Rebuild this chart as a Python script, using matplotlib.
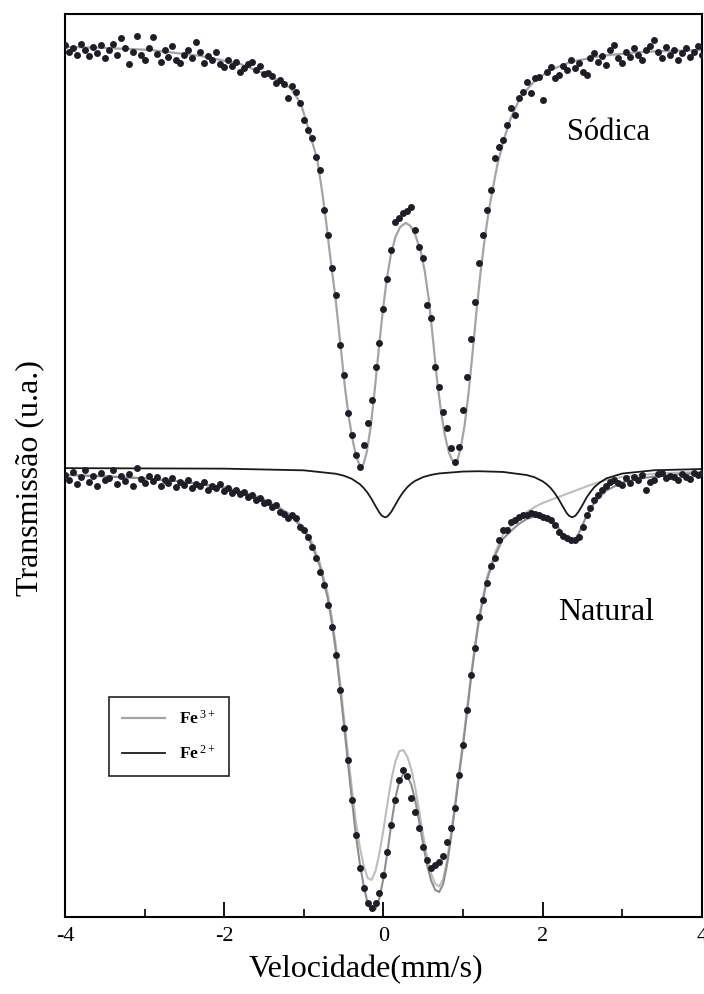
import numpy as np
import matplotlib.pyplot as plt
from matplotlib.ticker import MultipleLocator

plt.rcParams['font.family'] = ['Liberation Serif', 'DejaVu Serif']
plt.rcParams['mathtext.fontset'] = 'custom'
plt.rcParams['mathtext.rm'] = 'Liberation Serif'
plt.rcParams['mathtext.it'] = 'Liberation Serif:italic'
plt.rcParams['mathtext.bf'] = 'Liberation Serif:bold'
plt.rcParams['axes.unicode_minus'] = False

# velocity channels, mm/s (0.05 mm/s step)
velocity = np.linspace(-4.0, 4.0, 161)

# measured transmission (u.a.), sodium-exchanged sample, one row = 0.5 mm/s
sodica_counts = [
    872, 865, 869, 862, 873, 867, 861, 870, 864, 872,
    859, 867, 873, 862, 879, 869, 853, 865, 881, 862,
    857, 869, 880, 863, 855, 867, 860, 871, 857, 854,
    862, 867, 859, 875, 865, 854, 861, 857, 865, 853,
    850, 857, 851, 855, 845, 849, 853, 855, 847, 851,
    843, 844, 841, 834, 837, 833, 819, 831, 825, 814,
    797, 787, 779, 760, 747, 707, 682, 649, 622, 572,
    542, 504, 482, 462, 450, 472, 494, 517, 550, 574,
    608, 638, 667, 695, 699, 704, 706, 710, 687, 670,
    659, 612, 599, 550, 530, 505, 489, 469, 455, 470,
    507, 540, 578, 615, 654, 682, 707, 727, 759, 770,
    777, 792, 809, 802, 819, 825, 835, 824, 839, 840,
    817, 845, 850, 839, 842, 851, 847, 857, 849, 854,
    845, 842, 859, 864, 855, 861, 852, 867, 872, 859,
    854, 865, 860, 869, 862, 857, 867, 871, 877, 865,
    859, 870, 862, 867, 857, 864, 869, 860, 865, 871,
    862,
]

# measured transmission (u.a.), natural sample
natural_counts = [
    442, 437, 445, 433, 440, 447, 435, 441, 431, 444,
    437, 439, 447, 433, 441, 436, 443, 431, 449, 438,
    434, 441, 436, 440, 431, 437, 434, 439, 430, 435,
    432, 437, 429, 433, 431, 435, 427, 431, 429, 433,
    426, 429, 424, 427, 423, 425, 420, 422, 417, 419,
    414, 415, 410, 412, 405, 403, 399, 402, 399, 390,
    387, 380, 370, 359, 345, 332, 312, 290, 262, 227,
    189, 157, 117, 82, 49, 29, 14, 9, 14, 24,
    42, 65, 92, 117, 137, 147, 141, 119, 105, 89,
    70, 57, 49, 52, 55, 61, 75, 89, 109, 142,
    172, 207, 242, 269, 300, 317, 334, 351, 359, 377,
    387, 387, 395, 397, 400, 402, 402, 404, 403, 402,
    400, 399, 397, 392, 385, 381, 379, 377, 377, 380,
    390, 402, 409, 417, 422, 427, 431, 435, 437, 434,
    432, 439, 434, 440, 437, 442, 427, 435, 437, 443,
    444, 439, 441, 440, 437, 443, 440, 438, 444, 442,
    444,
]

# fitted curves as (velocity, transmission)
sodica_fit = [
    (-4.00, 870), (-3.50, 869), (-2.93, 867), (-2.30, 861), (-1.80, 853),
    (-1.42, 841), (-1.17, 829), (-1.04, 814), (-0.92, 782), (-0.83, 757),
    (-0.77, 725), (-0.72, 695), (-0.67, 661), (-0.60, 617), (-0.54, 572),
    (-0.48, 527), (-0.43, 497), (-0.38, 474), (-0.34, 460), (-0.30, 452),
    (-0.28, 450), (-0.25, 453), (-0.21, 465), (-0.16, 490), (-0.11, 527),
    (-0.06, 567), (-0.01, 605), (0.04, 637), (0.09, 661), (0.15, 680),
    (0.21, 690), (0.28, 694), (0.34, 691), (0.40, 682), (0.47, 665),
    (0.52, 645), (0.57, 617), (0.62, 579), (0.67, 539), (0.72, 507),
    (0.77, 482), (0.82, 465), (0.86, 457), (0.89, 454), (0.93, 457),
    (0.97, 469), (1.02, 492), (1.07, 525), (1.12, 565), (1.17, 607),
    (1.22, 645), (1.27, 677), (1.32, 705), (1.37, 727), (1.43, 752),
    (1.51, 777), (1.60, 799), (1.72, 820), (1.91, 837), (2.10, 847),
    (2.35, 855), (2.73, 861), (3.23, 865), (4.00, 867),
]

natural_fit = [
    (-4.0, 442), (-3.5, 440.5), (-3.0, 438.5), (-2.5, 435), (-2.0, 429),
    (-1.75, 424), (-1.5, 417), (-1.3, 408), (-1.15, 400), (-1.0, 387),
    (-0.9, 372), (-0.8, 351), (-0.7, 319), (-0.65, 295), (-0.6, 267),
    (-0.55, 232), (-0.5, 195), (-0.45, 157), (-0.4, 120), (-0.35, 84),
    (-0.3, 55), (-0.25, 32), (-0.2, 14), (-0.15, 6), (-0.1, 8),
    (-0.05, 19), (0.0, 39), (0.05, 65), (0.1, 94), (0.15, 119),
    (0.2, 136), (0.25, 143), (0.3, 141), (0.35, 132), (0.4, 116),
    (0.45, 95), (0.5, 72), (0.55, 51), (0.6, 36), (0.65, 27),
    (0.7, 25), (0.75, 33), (0.8, 53), (0.85, 80), (0.9, 110),
    (0.95, 142), (1.0, 172), (1.05, 205), (1.1, 239), (1.15, 269),
    (1.2, 297), (1.3, 337), (1.4, 361), (1.5, 378), (1.6, 386),
    (1.7, 393), (1.8, 398), (1.9, 400.5), (2.0, 400.5), (2.05, 398),
    (2.1, 396), (2.15, 393), (2.2, 389), (2.25, 383.5), (2.3, 378),
    (2.33, 376), (2.37, 375.5), (2.41, 378), (2.45, 383), (2.5, 392),
    (2.55, 401), (2.6, 408), (2.65, 414), (2.72, 420.5), (2.8, 426.5),
    (3.0, 434.5), (3.2, 438), (3.4, 440.5), (3.7, 442.5), (4.0, 444),
]

fe3_fit = [
    (-4.0, 442.2), (-3.5, 440.8), (-3.0, 438.8), (-2.5, 435.4), (-2.0, 429.7),
    (-1.75, 424.8), (-1.5, 418), (-1.3, 409.3), (-1.15, 401.6), (-1.0, 389.4),
    (-0.9, 374.9), (-0.8, 354.6), (-0.7, 323.5), (-0.65, 300), (-0.6, 272.8),
    (-0.55, 238.6), (-0.5, 202.7), (-0.45, 166), (-0.4, 130.8), (-0.35, 97),
    (-0.3, 71), (-0.25, 51.9), (-0.2, 39), (-0.15, 37), (-0.1, 46),
    (-0.05, 64), (0.0, 87.4), (0.05, 113.5), (0.1, 137.7), (0.15, 155.7),
    (0.2, 165.8), (0.25, 166.9), (0.3, 160.2), (0.35, 147.6), (0.4, 128.8),
    (0.45, 105.6), (0.5, 81.1), (0.55, 58.8), (0.6, 42.9), (0.65, 33.2),
    (0.7, 30.5), (0.75, 38), (0.8, 57.6), (0.85, 84.3), (0.9, 114),
    (0.95, 145.8), (1.0, 175.6), (1.05, 208.5), (1.1, 242.4), (1.15, 272.3),
    (1.2, 300.3), (1.3, 340), (1.4, 364), (1.5, 382), (1.6, 391),
    (1.7, 399), (1.8, 405), (1.9, 410), (2.0, 414), (2.1, 417),
    (2.2, 420), (2.4, 426), (2.6, 432), (2.8, 437), (3.0, 440),
    (3.3, 442.5), (3.6, 444), (4.0, 445),
]

fe2_fit = [
    (-4.0, 448.8), (-2.0, 448.3), (-1.0, 446.6), (-0.6, 443.2), (-0.5, 441.3),
    (-0.4, 438.2), (-0.3, 433.0), (-0.25, 429.1), (-0.2, 424.2), (-0.15, 418.0),
    (-0.1, 410.9), (-0.05, 404.2), (-0.02, 401.2), (0.02, 399.6), (0.05, 400.5),
    (0.1, 405.3), (0.15, 412.3), (0.2, 419.2), (0.25, 425.1), (0.3, 429.8),
    (0.35, 433.4), (0.4, 436.2), (0.5, 439.9), (0.6, 442.1), (0.7, 443.5),
    (1.0, 445.4), (1.2, 445.7), (1.5, 445.0), (1.8, 441.9), (1.9, 439.6),
    (2.0, 435.6), (2.05, 432.7), (2.1, 428.9), (2.15, 423.9), (2.2, 417.8),
    (2.25, 410.8), (2.3, 404.0), (2.33, 401.2), (2.37, 399.6), (2.41, 401.2),
    (2.45, 405.3), (2.5, 412.0), (2.55, 419.3), (2.6, 425.0), (2.65, 430.0),
    (2.72, 434.5), (2.8, 438.6), (3.0, 443.4), (3.4, 446.7), (4.0, 447.9),
]

fig = plt.figure(figsize=(7.04, 9.94), dpi=100)
ax = fig.add_axes([0.0923, 0.0775, 0.9048, 0.9085])

sx, sy = np.array(sodica_fit).T
nx, ny = np.array(natural_fit).T
f3x, f3y = np.array(fe3_fit).T
f2x, f2y = np.array(fe2_fit).T

ax.plot(f3x, f3y, color='#bdbdbd', lw=1.5, zorder=2)
ax.plot(sx, sy, color='#a4a4a4', lw=1.6, zorder=2, label='Fe$\\,^{3+}$')
ax.plot(nx, ny, color='#8e8e8e', lw=1.5, zorder=2)
ax.plot(f2x, f2y, color='#1a1a1a', lw=1.3, zorder=2.5, label='Fe$\\,^{2+}$')

ax.plot(velocity, sodica_counts, 'o', ms=5.0, mew=0, color='#1e1e2a', zorder=3)
ax.plot(velocity, natural_counts, 'o', ms=5.0, mew=0, color='#1e1e2a', zorder=3)

ax.text(2.31, 777, 'Sódica', fontsize=22, ha='left', va='baseline')
ax.text(2.19, 297, 'Natural', fontsize=23, ha='left', va='baseline')

ax.set_xlim(-4, 4)
ax.set_ylim(0, 903)
ax.set_yticks([])
ax.xaxis.set_major_locator(MultipleLocator(2))
ax.xaxis.set_minor_locator(MultipleLocator(1))
ax.tick_params(axis='x', which='major', direction='in', length=11, width=1.3,
               labelsize=16, pad=7, top=False)
ax.tick_params(axis='x', which='minor', direction='in', length=5.5, width=1.2,
               top=False)
for sp in ax.spines.values():
    sp.set_linewidth(1.5)

ax.set_xlabel('Velocidade(mm/s)', fontsize=23)
ax.xaxis.set_label_coords(0.4725, -0.042)
ax.set_ylabel('Transmissão (u.a.)', fontsize=23)
ax.yaxis.set_label_coords(-0.033, 0.486)

leg = ax.legend(loc='lower left', bbox_to_anchor=(0.069, 0.156), borderaxespad=0,
                fancybox=False, framealpha=1, edgecolor='#222222',
                prop={'family': 'Liberation Serif', 'weight': 'bold', 'size': 12.5},
                handlelength=2.5, handletextpad=0.8, labelspacing=1.0,
                borderpad=0.75)
leg.get_frame().set_linewidth(1.2)

fig.savefig('out.png', dpi=100)
